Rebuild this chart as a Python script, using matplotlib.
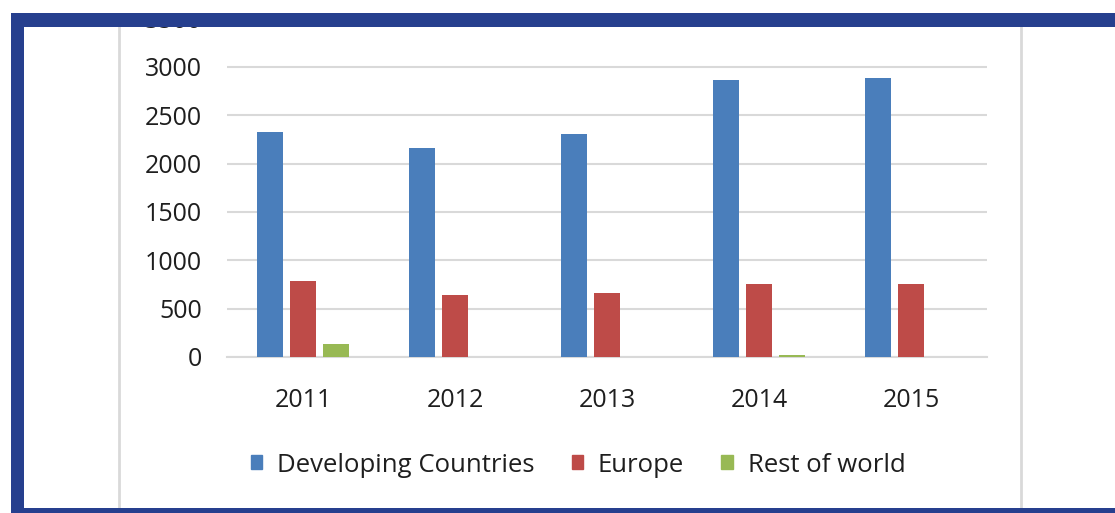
import matplotlib
matplotlib.use("Agg")
import matplotlib.pyplot as plt
from matplotlib.patches import Rectangle
from matplotlib.lines import Line2D
import numpy as np

years = ["2011", "2012", "2013", "2014", "2015"]
series_names = ["Developing Countries", "Europe", "Rest of world"]
developing = [2330, 2160, 2310, 2870, 2890]
europe = [790, 640, 660, 760, 760]
rest_of_world = [130, 0, 0, 25, 0]
y_ticks = [0, 500, 1000, 1500, 2000, 2500, 3000, 3500]

colors = ["#4a7ebb", "#be4b48", "#98b954"]
grid_color = "#d9d9d9"
text_color = "#1e1e1e"
frame_color = "#263f8e"

plt.rcParams["font.family"] = ["Open Sans", "DejaVu Sans"]

W, H = 1115, 513
fig = plt.figure(figsize=(W / 100, H / 100), dpi=100)
fig.patch.set_facecolor("white")

# plot area in pixel coordinates
left_px, right_px, zero_px = 227, 987, 357
top_px = 18.6
ax = fig.add_axes([left_px / W, 1 - zero_px / H,
                   (right_px - left_px) / W, (zero_px - top_px) / H])

x = np.arange(len(years))
step, width = 0.216, 0.171
for i, (vals, name) in enumerate(zip([developing, europe, rest_of_world], series_names)):
    ax.bar(x + (i - 1) * step, vals, width=width, color=colors[i], label=name, zorder=3)

ax.set_xlim(-0.5, len(years) - 0.5)
ax.set_ylim(0, 3500)
ax.set_yticks(y_ticks)
ax.set_yticklabels([str(v) for v in y_ticks])
ax.set_xticks(x)
ax.set_xticklabels(years)
ax.yaxis.grid(True, color=grid_color, linewidth=1.5, zorder=0)
ax.set_axisbelow(True)
for s in ["top", "right", "left"]:
    ax.spines[s].set_visible(False)
ax.spines["bottom"].set_color(grid_color)
ax.spines["bottom"].set_linewidth(1.5)
ax.tick_params(axis="y", length=0, pad=18, labelsize=18, labelcolor=text_color)
ax.tick_params(axis="x", length=0, pad=22, labelsize=18, labelcolor=text_color)

handles = [Rectangle((0, 0), 1, 1, color=c) for c in colors]
fig.legend(handles, series_names, loc="center", bbox_to_anchor=(578 / W, 1 - 465 / H),
           ncol=3, frameon=False, fontsize=18.5, labelcolor=text_color,
           handlelength=0.45, handleheight=0.45, handletextpad=0.58, columnspacing=1.44)

# chart-area frame lines
for xp in (119, 1021):
    fig.add_artist(Line2D([xp / W, xp / W], [0, 1], color=grid_color, linewidth=2,
                          transform=fig.transFigure, zorder=5))

# outer navy frame and white margin
def px_rect(x0, y0, x1, y1, color):
    fig.add_artist(Rectangle((x0 / W, 1 - y1 / H), (x1 - x0) / W, (y1 - y0) / H,
                             transform=fig.transFigure, facecolor=color,
                             edgecolor="none", zorder=10))

px_rect(0, 0, W, 13, "white")
px_rect(0, 0, 11, H, "white")
px_rect(11, 13, W, 27, frame_color)
px_rect(11, 13, 24, H, frame_color)
px_rect(11, 508, W, H, frame_color)

fig.savefig("out.png", dpi=100)
